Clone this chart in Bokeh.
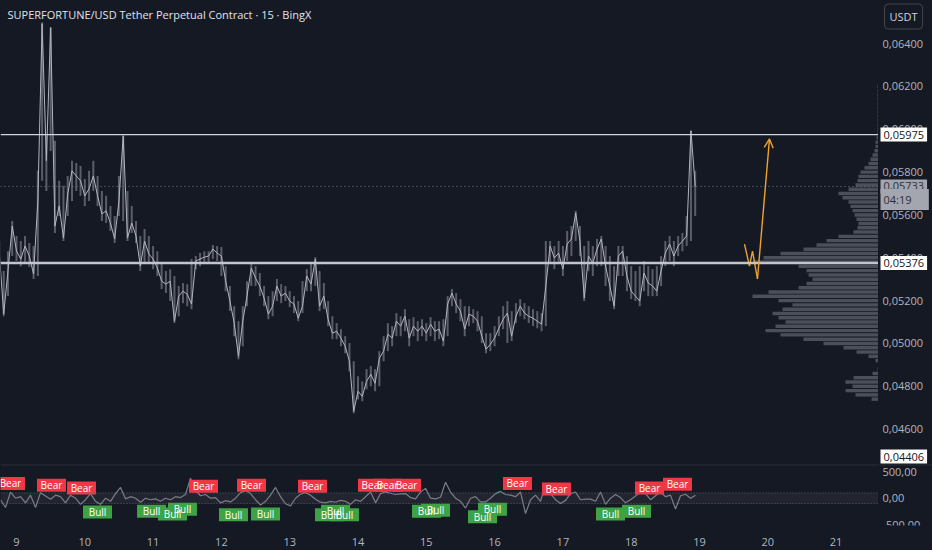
import numpy as np
from bokeh.plotting import figure
from bokeh.layouts import column, row
from bokeh.models import (Range1d, Span, BoxAnnotation, Label, FixedTicker, LinearAxis,
                          Arrow, OpenHead, ColumnDataSource, GlobalInlineStyleSheet)
from bokeh.core.properties import value
from bokeh.embed import file_html
from bokeh.resources import INLINE

# ---------------- data ----------------
TITLE = "SUPERFORTUNE/USD Tether Perpetual Contract \u00b7 15 \u00b7 BingX"
CURRENCY = "USDT"

PRICE_START_DAY = 8.75      # first 90-minute bucket (day of month)
PRICE_STEP_HOURS = 1.5
PRICE = [
    0.05418, 0.05137, 0.05338, 0.05548, 0.05431, 0.05394, 0.05455, 0.05408, 0.05324, 0.05665,
    0.06493, 0.05853, 0.06475, 0.05548, 0.05642, 0.05492, 0.05698, 0.05806, 0.05782, 0.05759,
    0.05689, 0.05722, 0.05782, 0.05689, 0.05605, 0.05619, 0.05562, 0.05488, 0.05665, 0.05970,
    0.05492, 0.05562, 0.05502, 0.05361, 0.05478, 0.05418, 0.05394, 0.05352, 0.05291, 0.05277,
    0.05291, 0.05104, 0.05221, 0.05244, 0.05230, 0.05184, 0.05385, 0.05394, 0.05403, 0.05408,
    0.05441, 0.05422, 0.05408, 0.05291, 0.05198, 0.05095, 0.04940, 0.05104, 0.05221, 0.05352,
    0.05305, 0.05268, 0.05212, 0.05137, 0.05174, 0.05268, 0.05221, 0.05235, 0.05198, 0.05184,
    0.05118, 0.05174, 0.05315, 0.05277, 0.05394, 0.05174, 0.05221, 0.05113, 0.05048, 0.05057,
    0.05025, 0.04987, 0.04917, 0.04683, 0.04777, 0.04753, 0.04823, 0.04856, 0.04814, 0.04931,
    0.04964, 0.05043, 0.05025, 0.05104, 0.05081, 0.05127, 0.05025, 0.05081, 0.05057, 0.05081,
    0.05048, 0.05090, 0.05057, 0.05067, 0.05011, 0.05184, 0.05235, 0.05184, 0.05151, 0.05067,
    0.05137, 0.05127, 0.05104, 0.05034, 0.04973, 0.04996, 0.05025, 0.05071, 0.05113, 0.05142,
    0.05034, 0.05127, 0.05174, 0.05142, 0.05127, 0.05118, 0.05104, 0.05090, 0.05268, 0.05455,
    0.05399, 0.05422, 0.05347, 0.05464, 0.05488, 0.05609, 0.05478, 0.05212, 0.05408, 0.05375,
    0.05441, 0.05488, 0.05361, 0.05268, 0.05174, 0.05408, 0.05431, 0.05315, 0.05244, 0.05221,
    0.05198, 0.05329, 0.05282, 0.05268, 0.05244, 0.05338, 0.05422, 0.05464, 0.05408, 0.05455,
    0.05478, 0.05502, 0.05993, 0.05733,
]
PRICE_HIGH = [
    0.05478, 0.05338, 0.05431, 0.05572, 0.05502, 0.05478, 0.05502, 0.05469, 0.05455, 0.05806,
    0.06498, 0.05970, 0.06475, 0.05946, 0.05759, 0.05736, 0.05782, 0.05853, 0.05843, 0.05829,
    0.05768, 0.05806, 0.05853, 0.05782, 0.05712, 0.05689, 0.05642, 0.05595, 0.05782, 0.05970,
    0.05712, 0.05642, 0.05572, 0.05502, 0.05534, 0.05502, 0.05455, 0.05431, 0.05375, 0.05338,
    0.05347, 0.05315, 0.05268, 0.05282, 0.05277, 0.05394, 0.05408, 0.05422, 0.05431, 0.05431,
    0.05460, 0.05455, 0.05450, 0.05361, 0.05268, 0.05174, 0.05104, 0.05174, 0.05291, 0.05375,
    0.05361, 0.05329, 0.05268, 0.05221, 0.05244, 0.05301, 0.05277, 0.05268, 0.05244, 0.05221,
    0.05198, 0.05291, 0.05347, 0.05375, 0.05403, 0.05338, 0.05282, 0.05198, 0.05127, 0.05095,
    0.05067, 0.05034, 0.05002, 0.04917, 0.04847, 0.04823, 0.04880, 0.04894, 0.04880, 0.04964,
    0.05034, 0.05095, 0.05081, 0.05142, 0.05127, 0.05160, 0.05113, 0.05123, 0.05104, 0.05113,
    0.05095, 0.05123, 0.05104, 0.05104, 0.05113, 0.05221, 0.05254, 0.05235, 0.05207, 0.05174,
    0.05174, 0.05160, 0.05151, 0.05127, 0.05048, 0.05048, 0.05081, 0.05127, 0.05174, 0.05198,
    0.05151, 0.05188, 0.05207, 0.05188, 0.05174, 0.05160, 0.05151, 0.05142, 0.05478, 0.05478,
    0.05455, 0.05478, 0.05455, 0.05525, 0.05548, 0.05619, 0.05548, 0.05455, 0.05478, 0.05455,
    0.05488, 0.05502, 0.05455, 0.05408, 0.05361, 0.05455, 0.05455, 0.05408, 0.05361, 0.05338,
    0.05361, 0.05385, 0.05361, 0.05347, 0.05361, 0.05408, 0.05478, 0.05502, 0.05478, 0.05502,
    0.05516, 0.05595, 0.05993, 0.05806,
]
PRICE_LOW = [
    0.05375, 0.05127, 0.05221, 0.05408, 0.05385, 0.05361, 0.05375, 0.05357, 0.05301, 0.05315,
    0.05759, 0.05712, 0.05899, 0.05516, 0.05595, 0.05478, 0.05595, 0.05665, 0.05712, 0.05689,
    0.05642, 0.05665, 0.05712, 0.05642, 0.05572, 0.05562, 0.05525, 0.05469, 0.05595, 0.05572,
    0.05478, 0.05516, 0.05469, 0.05338, 0.05375, 0.05375, 0.05347, 0.05315, 0.05254, 0.05235,
    0.05198, 0.05095, 0.05127, 0.05188, 0.05174, 0.05160, 0.05347, 0.05361, 0.05375, 0.05375,
    0.05394, 0.05385, 0.05315, 0.05244, 0.05151, 0.05034, 0.04926, 0.04987, 0.05174, 0.05268,
    0.05268, 0.05221, 0.05174, 0.05113, 0.05127, 0.05198, 0.05188, 0.05198, 0.05170, 0.05142,
    0.05104, 0.05142, 0.05244, 0.05244, 0.05268, 0.05151, 0.05160, 0.05081, 0.05020, 0.05020,
    0.04987, 0.04954, 0.04870, 0.04674, 0.04739, 0.04730, 0.04786, 0.04800, 0.04777, 0.04800,
    0.04917, 0.04964, 0.04987, 0.05034, 0.05034, 0.05057, 0.04987, 0.05034, 0.05011, 0.05034,
    0.05011, 0.05034, 0.05011, 0.05020, 0.04987, 0.05034, 0.05174, 0.05142, 0.05104, 0.05034,
    0.05081, 0.05095, 0.05057, 0.05002, 0.04954, 0.04964, 0.04987, 0.05034, 0.05067, 0.05002,
    0.05011, 0.05095, 0.05127, 0.05113, 0.05095, 0.05081, 0.05071, 0.05057, 0.05081, 0.05375,
    0.05347, 0.05375, 0.05315, 0.05385, 0.05408, 0.05478, 0.05408, 0.05198, 0.05338, 0.05315,
    0.05361, 0.05361, 0.05268, 0.05198, 0.05160, 0.05315, 0.05315, 0.05244, 0.05207, 0.05198,
    0.05174, 0.05244, 0.05221, 0.05221, 0.05221, 0.05268, 0.05361, 0.05385, 0.05361, 0.05408,
    0.05431, 0.05455, 0.05478, 0.05595,
]

LEVEL_HIGH = 0.05975
LEVEL_LOW = 0.05376
LAST_PRICE = 0.05733
SESSION_LOW = 0.04406
COUNTDOWN = "04:19"

PROJ_T = [19.659, 19.732, 19.776, 19.849, 20.025]
PROJ_P = [0.05464, 0.05361, 0.05431, 0.05301, 0.05955]

VP_PRICE = [
    0.0620, 0.0618, 0.0616, 0.0614, 0.0612, 0.0610, 0.0608, 0.0606, 0.0604, 0.0602,
    0.0600, 0.0598, 0.0596, 0.0594, 0.0592, 0.0590, 0.0588, 0.0586, 0.0584, 0.0582,
    0.0580, 0.0578, 0.0576, 0.0574, 0.0572, 0.0570, 0.0568, 0.0566, 0.0564, 0.0562,
    0.0560, 0.0558, 0.0556, 0.0554, 0.0552, 0.0550, 0.0548, 0.0546, 0.0544, 0.0542,
    0.0540, 0.0538, 0.0536, 0.0534, 0.0532, 0.0530, 0.0528, 0.0526, 0.0524, 0.0522,
    0.0520, 0.0518, 0.0516, 0.0514, 0.0512, 0.0510, 0.0508, 0.0506, 0.0504, 0.0502,
    0.0500, 0.0498, 0.0496, 0.0494, 0.0492, 0.0490, 0.0488, 0.0486, 0.0484, 0.0482,
    0.0480, 0.0478, 0.0476, 0.0474,
]
VP_VOL = [
    1, 1, 1, 1, 1, 1, 1, 1, 1, 1,
    1, 1, 2, 3, 3, 4, 6, 8, 10, 14,
    18, 20, 21, 23, 30, 40, 36, 30, 28, 26,
    24, 22, 20, 21, 25, 40, 52, 62, 75, 98,
    115, 125, 80, 72, 70, 66, 72, 80, 110, 126,
    100, 86, 96, 106, 100, 93, 103, 113, 98, 75,
    55, 35, 22, 10, 3, 0, 1, 6, 25, 33,
    26, 33, 23, 7,
]

OSC_START_DAY = 8.766
OSC_STEP_HOURS = 1.757
OSC = [
    -29, -176, 117, 0, 29, -88, 58, -176, 105, 41,
    -18, 58, 29, -88, 58, 0, -117, -29, 88, -59,
    -117, 0, -59, 88, 205, -12, 29, 0, -76, 0,
    -29, -12, -59, 0, -29, 29, 12, 70, 380, 146,
    47, 70, 0, 12, -88, -47, -70, 0, 105, 140,
    88, -29, -129, -59, 58, 205, 29, -105, -146, 0,
    76, 105, 58, -18, -76, -88, -59, -76, -41,
    -59, -117, -29, -59, 29, 117, -88, 88, 117, 94,
    70, 82, 88, 12, -12, 117, 187, 0, -12, 18,
    304, 117, 0, -59, -187, 0, 29, -70, -70, 0,
    88, 129, 70, 58, 29, 117, -293, -29, 58, -59,
    263, 88, -29, -99, -41, 88, 117, -29, -18, -18,
    -59, 117, -117, 0, 70, 12, -88, -29, 41, 117,
    88, -29, 47, 117, 29, 58, -205, 47, 76, 0, 58,
]
OSC_BAND = 100

BEAR_T = [8.912, 9.512, 9.952, 11.738, 12.441, 13.334, 14.212, 14.432, 14.710,
          16.335, 16.906, 18.268, 18.678]
BEAR_V = [281, 246, 193, 228, 246, 228, 246, 246, 246, 281, 175, 193, 263]
BULL_T = [10.186, 10.977, 11.284, 11.430, 12.177, 12.646, 13.583, 13.671, 13.802,
          15.003, 15.135, 15.823, 15.969, 17.697, 18.078]
BULL_V = [-263, -246, -298, -210, -316, -298, -316, -246, -316,
          -246, -228, -351, -210, -298, -246]

PRICE_TICKS = [0.046, 0.048, 0.050, 0.052, 0.054, 0.056, 0.058, 0.060, 0.062, 0.064]
OSC_TICKS = [-500, 0, 500]
DAY_TICKS = [9, 10, 11, 12, 13, 14, 15, 16, 17, 18, 19, 20, 21]

# ---------------- style ----------------
BG = "#151924"
FONT = "Open Sans"
TXT = "#b2b5be"
ORANGE = "#f0a22e"
PLOT_W = 878
AXIS_W = 54
MAIN_H = 464
OSC_H = 86
X_START, X_END = 8.7657, 21.621
OSC_TOP = 640


def comma(v, nd):
    return ("%.*f" % (nd, v)).replace(".", ",")


def base_fig(w, h, xr, yr, bottom=0):
    f = figure(width=w, height=h, x_range=xr, y_range=yr,
               x_axis_location=None, y_axis_location=None,
               output_backend="svg", toolbar_location=None,
               min_border_left=0, min_border_right=0, min_border_top=0,
               min_border_bottom=bottom,
               background_fill_color=BG, border_fill_color=BG, outline_line_color=None)
    f.grid.visible = False
    return f


price_t = PRICE_START_DAY + np.arange(len(PRICE)) * PRICE_STEP_HOURS / 24.0
osc_t = OSC_START_DAY + np.arange(len(OSC)) * OSC_STEP_HOURS / 24.0

xr = Range1d(X_START, X_END)
yr_price = Range1d(0.04435, 0.06601)
yr_osc = Range1d(-518, OSC_TOP)

# ---------------- price pane ----------------
p = base_fig(PLOT_W, MAIN_H, xr, yr_price)

# volume profile anchored at the right edge of the pane
p.extra_x_ranges = {"vp": Range1d(PLOT_W, 0)}
p.hbar(y=VP_PRICE, left=0, right=VP_VOL, height=0.00016, x_range_name="vp",
       fill_color="#70737d", fill_alpha=0.6, line_color=None)

p.add_layout(Span(location=LAST_PRICE, dimension="width", line_color="#787b86",
                  line_width=1, line_dash="1 3"))
p.add_layout(Span(location=LEVEL_HIGH, dimension="width", line_color="#d1d4dc", line_width=1.3))
p.add_layout(Span(location=LEVEL_LOW, dimension="width", line_color="#c3c5cc", line_width=2.5))

p.segment(x0=price_t, y0=PRICE_LOW, x1=price_t, y1=PRICE_HIGH,
          line_color="#9598a1", line_width=2, line_alpha=0.55)
p.line(price_t, PRICE, line_color="#b2b5be", line_width=1)

p.line(PROJ_T[:-1], PROJ_P[:-1], line_color=ORANGE, line_width=1.4)
p.add_layout(Arrow(end=OpenHead(size=9, line_color=ORANGE, line_width=1.4),
                   x_start=PROJ_T[-2], y_start=PROJ_P[-2], x_end=PROJ_T[-1], y_end=PROJ_P[-1],
                   line_color=ORANGE, line_width=1.4))

p.add_layout(Label(x=7, x_units="screen", y=MAIN_H - 14, y_units="screen", text=TITLE,
                   text_font=FONT, text_font_size="11px", text_color="#e0e3eb",
                   text_baseline="middle"))

# ---------------- price scale ----------------
pa = base_fig(AXIS_W, MAIN_H, Range1d(0, AXIS_W), yr_price)
pa.text(x=0, y=PRICE_TICKS, text=[comma(t, 5) for t in PRICE_TICKS], x_offset=4,
        text_baseline="middle", text_color=TXT, text_font_size="11px", text_font=value(FONT))


def tag(y, text, bg, fg, y_units="data", y_offset=0):
    pa.add_layout(Label(x=2, x_units="screen", y=y, y_units=y_units, text=text,
                        text_font=FONT, text_font_size="11px", text_color=fg,
                        text_baseline="middle", y_offset=y_offset,
                        background_fill_color=bg, padding=3))


tag(LEVEL_HIGH, comma(LEVEL_HIGH, 5), "#ffffff", "#131722")
tag(LEVEL_LOW, comma(LEVEL_LOW, 5), "#ffffff", "#131722")
tag(LAST_PRICE, comma(LAST_PRICE, 5), "#a3a6af", "#2a2e39")
tag(LAST_PRICE, COUNTDOWN + "     ", "#a3a6af", "#2a2e39", y_offset=-13)
tag(8, comma(SESSION_LOW, 5), "#ffffff", "#131722", y_units="screen")
pa.add_layout(Label(x=6, x_units="screen", y=MAIN_H - 16, y_units="screen", text=CURRENCY,
                    text_font=FONT, text_font_size="11px", text_color="#d1d4dc",
                    text_baseline="middle", background_fill_color=BG,
                    border_line_color="#434651", border_radius=4, padding=5))

# ---------------- oscillator pane ----------------
q = base_fig(PLOT_W, OSC_H, xr, yr_osc, bottom=25)
qx = LinearAxis(ticker=FixedTicker(ticks=DAY_TICKS))
q.add_layout(qx, "below")
qx.axis_line_color = None
qx.major_tick_line_color = None
qx.minor_tick_line_color = None
qx.major_label_text_color = TXT
qx.major_label_text_font_size = "11px"
qx.major_label_text_font = FONT
qx.major_label_standoff = 6

q.add_layout(BoxAnnotation(bottom=-OSC_BAND, top=OSC_BAND, fill_color="#787b86",
                           fill_alpha=0.13, line_color=None))
for lv in (-OSC_BAND, OSC_BAND):
    q.add_layout(Span(location=lv, dimension="width", line_color="#787b86",
                      line_alpha=0.7, line_width=1, line_dash="1 2"))
q.add_layout(Span(location=OSC_TOP, dimension="width", line_color="#2a2e39", line_width=2))

q.line(osc_t, OSC, line_color="#7b7e88", line_width=1.2)

bear = ColumnDataSource(dict(t=BEAR_T, v=BEAR_V, s=["Bear"] * len(BEAR_T)))
bull = ColumnDataSource(dict(t=BULL_T, v=BULL_V, s=["Bull"] * len(BULL_T)))
for src, col in ((bear, "#f23645"), (bull, "#3da345")):
    q.rect(x="t", y="v", width=29, height=13, width_units="screen", height_units="screen",
           fill_color=col, line_color=None, source=src)
    q.text(x="t", y="v", text="s", text_align="center", text_baseline="middle",
           text_color="#ffffff", text_font_size="10px", text_font=value(FONT), source=src)

# ---------------- oscillator scale ----------------
qa = base_fig(AXIS_W, OSC_H, Range1d(0, AXIS_W), yr_osc, bottom=25)
qa.text(x=0, y=OSC_TICKS, text=[comma(t, 2) for t in OSC_TICKS], x_offset=4,
        text_baseline="middle", text_color=TXT, text_font_size="11px", text_font=value(FONT))
qa.add_layout(Span(location=OSC_TOP, dimension="width", line_color="#2a2e39", line_width=2))

layout = column(row(p, pa, spacing=0), row(q, qa, spacing=0), spacing=0,
                stylesheets=[GlobalInlineStyleSheet(
                    css="html,body{margin:0;padding:0;background:#151924;}")])

open("out.html", "w").write(file_html(layout, INLINE))
